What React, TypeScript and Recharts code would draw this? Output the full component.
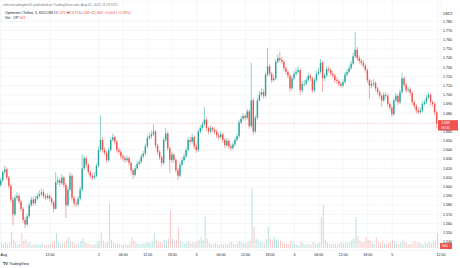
import { ComposedChart, Bar, XAxis, YAxis, CartesianGrid, ReferenceLine } from "recharts";

// OP/USDT, 30 min candles from Aug 1 00:00
const firstOpen = 1.602;
const closes = [
  1.607, 1.616, 1.619, 1.610, 1.601, 1.586, 1.570, 1.588, 1.590, 1.584,
  1.576, 1.564, 1.559, 1.568, 1.580, 1.586, 1.582, 1.587, 1.590, 1.592,
  1.594, 1.590, 1.588, 1.590, 1.587, 1.583, 1.576, 1.605, 1.607, 1.604,
  1.610, 1.602, 1.580, 1.597, 1.612, 1.588, 1.582, 1.581, 1.587, 1.597,
  1.620, 1.631, 1.624, 1.616, 1.612, 1.610, 1.612, 1.623, 1.640, 1.651,
  1.640, 1.637, 1.629, 1.640, 1.651, 1.654, 1.649, 1.640, 1.638, 1.633,
  1.631, 1.629, 1.631, 1.626, 1.618, 1.613, 1.620, 1.625, 1.627, 1.633,
  1.636, 1.644, 1.653, 1.655, 1.657, 1.660, 1.645, 1.638, 1.632, 1.626,
  1.651, 1.658, 1.642, 1.629, 1.635, 1.629, 1.618, 1.612, 1.624, 1.629,
  1.633, 1.640, 1.651, 1.649, 1.654, 1.644, 1.640, 1.660, 1.664, 1.668,
  1.673, 1.664, 1.660, 1.664, 1.662, 1.660, 1.656, 1.654, 1.657, 1.651,
  1.645, 1.650, 1.644, 1.642, 1.646, 1.651, 1.655, 1.670, 1.674, 1.677,
  1.675, 1.682, 1.666, 1.694, 1.660, 1.675, 1.694, 1.700, 1.703, 1.699,
  1.722, 1.731, 1.723, 1.716, 1.718, 1.736, 1.740, 1.738, 1.736, 1.729,
  1.725, 1.721, 1.707, 1.718, 1.723, 1.725, 1.727, 1.705, 1.712, 1.712,
  1.716, 1.721, 1.718, 1.705, 1.716, 1.723, 1.725, 1.735, 1.718, 1.721,
  1.728, 1.727, 1.723, 1.721, 1.716, 1.715, 1.712, 1.710, 1.714, 1.722,
  1.725, 1.729, 1.734, 1.742, 1.749, 1.740, 1.737, 1.735, 1.732, 1.727,
  1.716, 1.710, 1.712, 1.713, 1.707, 1.703, 1.699, 1.694, 1.700, 1.699,
  1.690, 1.686, 1.679, 1.694, 1.699, 1.692, 1.703, 1.718, 1.711, 1.705,
  1.706, 1.702, 1.692, 1.688, 1.683, 1.681, 1.683, 1.690, 1.692, 1.697,
  1.700, 1.692, 1.690, 1.681, 1.669,
];
const highs = [
  1.610, 1.618, 1.623, 1.621, 1.612, 1.603, 1.589, 1.591, 1.594, 1.592,
  1.586, 1.578, 1.567, 1.571, 1.583, 1.589, 1.589, 1.590, 1.593, 1.596,
  1.598, 1.597, 1.592, 1.593, 1.592, 1.589, 1.585, 1.616, 1.611, 1.609,
  1.614, 1.612, 1.604, 1.600, 1.616, 1.614, 1.590, 1.585, 1.590, 1.600,
  1.635, 1.634, 1.633, 1.626, 1.618, 1.615, 1.616, 1.626, 1.644, 1.678,
  1.654, 1.643, 1.639, 1.643, 1.654, 1.658, 1.656, 1.651, 1.643, 1.640,
  1.636, 1.634, 1.634, 1.633, 1.628, 1.620, 1.623, 1.628, 1.630, 1.636,
  1.639, 1.647, 1.656, 1.659, 1.661, 1.668, 1.662, 1.647, 1.640, 1.634,
  1.654, 1.664, 1.660, 1.644, 1.638, 1.637, 1.631, 1.620, 1.627, 1.632,
  1.636, 1.643, 1.654, 1.654, 1.658, 1.656, 1.647, 1.663, 1.667, 1.671,
  1.687, 1.675, 1.666, 1.667, 1.666, 1.665, 1.662, 1.659, 1.660, 1.659,
  1.653, 1.653, 1.652, 1.647, 1.649, 1.654, 1.658, 1.673, 1.677, 1.680,
  1.679, 1.685, 1.684, 1.735, 1.697, 1.678, 1.697, 1.704, 1.707, 1.706,
  1.725, 1.751, 1.733, 1.725, 1.722, 1.739, 1.744, 1.747, 1.741, 1.738,
  1.731, 1.727, 1.723, 1.721, 1.726, 1.729, 1.731, 1.729, 1.715, 1.716,
  1.719, 1.724, 1.723, 1.720, 1.719, 1.726, 1.729, 1.739, 1.737, 1.724,
  1.731, 1.731, 1.729, 1.726, 1.723, 1.719, 1.717, 1.714, 1.717, 1.725,
  1.728, 1.732, 1.737, 1.746, 1.768, 1.752, 1.743, 1.740, 1.738, 1.734,
  1.729, 1.718, 1.716, 1.717, 1.715, 1.709, 1.705, 1.701, 1.703, 1.703,
  1.701, 1.692, 1.688, 1.697, 1.702, 1.701, 1.706, 1.724, 1.720, 1.713,
  1.709, 1.708, 1.704, 1.694, 1.690, 1.686, 1.686, 1.693, 1.695, 1.700,
  1.703, 1.702, 1.694, 1.692, 1.683,
];
const lows = [
  1.600, 1.605, 1.613, 1.607, 1.598, 1.583, 1.558, 1.568, 1.585, 1.581,
  1.573, 1.561, 1.555, 1.557, 1.566, 1.578, 1.579, 1.580, 1.585, 1.588,
  1.590, 1.587, 1.585, 1.586, 1.584, 1.580, 1.572, 1.575, 1.602, 1.600,
  1.602, 1.599, 1.566, 1.578, 1.595, 1.585, 1.579, 1.578, 1.579, 1.585,
  1.595, 1.618, 1.621, 1.613, 1.609, 1.607, 1.608, 1.610, 1.621, 1.638,
  1.637, 1.634, 1.626, 1.627, 1.638, 1.649, 1.646, 1.637, 1.635, 1.630,
  1.628, 1.626, 1.627, 1.623, 1.615, 1.608, 1.611, 1.618, 1.623, 1.625,
  1.631, 1.634, 1.642, 1.651, 1.652, 1.655, 1.642, 1.635, 1.629, 1.622,
  1.624, 1.649, 1.639, 1.615, 1.626, 1.626, 1.615, 1.607, 1.610, 1.622,
  1.627, 1.631, 1.638, 1.646, 1.647, 1.641, 1.637, 1.638, 1.658, 1.662,
  1.666, 1.661, 1.657, 1.658, 1.659, 1.657, 1.653, 1.651, 1.652, 1.648,
  1.642, 1.643, 1.641, 1.639, 1.640, 1.644, 1.649, 1.653, 1.668, 1.672,
  1.672, 1.673, 1.663, 1.664, 1.656, 1.658, 1.673, 1.692, 1.698, 1.696,
  1.697, 1.720, 1.720, 1.713, 1.714, 1.716, 1.734, 1.735, 1.733, 1.726,
  1.722, 1.718, 1.703, 1.705, 1.716, 1.721, 1.723, 1.700, 1.703, 1.709,
  1.710, 1.714, 1.715, 1.702, 1.703, 1.714, 1.721, 1.723, 1.703, 1.715,
  1.719, 1.724, 1.720, 1.718, 1.713, 1.712, 1.709, 1.707, 1.708, 1.712,
  1.720, 1.723, 1.727, 1.732, 1.740, 1.737, 1.734, 1.732, 1.729, 1.724,
  1.713, 1.696, 1.707, 1.709, 1.704, 1.700, 1.696, 1.687, 1.692, 1.696,
  1.687, 1.683, 1.676, 1.677, 1.692, 1.689, 1.690, 1.701, 1.708, 1.702,
  1.703, 1.699, 1.689, 1.685, 1.680, 1.679, 1.679, 1.681, 1.688, 1.690,
  1.695, 1.689, 1.687, 1.678, 1.664,
];
const volumes = [
  8, 6, 10, 7, 9, 27, 14, 9, 6, 7,
  25, 12, 15, 8, 10, 6, 5, 7, 5, 6,
  8, 5, 6, 5, 7, 9, 12, 25, 10, 7,
  8, 9, 14, 18, 11, 10, 7, 6, 8, 12,
  16, 10, 8, 7, 6, 5, 6, 9, 12, 25,
  12, 8, 10, 75, 14, 9, 7, 8, 6, 5,
  6, 7, 5, 8, 18, 12, 9, 7, 6, 8,
  7, 9, 10, 8, 12, 25, 14, 9, 10, 8,
  14, 12, 16, 63, 15, 10, 14, 35, 12, 8,
  7, 9, 12, 8, 10, 9, 11, 14, 18, 13,
  52, 16, 9, 7, 6, 8, 6, 5, 7, 6,
  8, 6, 9, 10, 7, 6, 8, 12, 9, 8,
  7, 10, 14, 100, 35, 16, 14, 10, 9, 8,
  15, 35, 16, 12, 18, 14, 10, 12, 9, 8,
  7, 6, 12, 9, 7, 6, 5, 11, 8, 6,
  6, 7, 5, 10, 8, 7, 9, 52, 72, 14,
  9, 7, 6, 8, 7, 6, 8, 10, 7, 9,
  8, 10, 14, 16, 52, 20, 12, 9, 10, 18,
  14, 12, 8, 7, 18, 9, 8, 12, 7, 6,
  8, 9, 14, 12, 8, 7, 9, 14, 10, 8,
  6, 7, 9, 12, 8, 10, 7, 6, 9, 8,
  10, 7, 9, 12, 25,
];

// 1.670 sits under the last-price tag, so it is not listed
const priceTicks = [
  1.54, 1.55, 1.56, 1.57, 1.58, 1.59, 1.6, 1.61, 1.62, 1.63, 1.64, 1.65, 1.66,
  1.68, 1.69, 1.7, 1.71, 1.72, 1.73, 1.74, 1.75, 1.76, 1.77, 1.78,
];
// hours since Aug 1 00:00
const timeTicks = [0, 12, 24, 30, 36, 42, 48, 54, 60, 66, 72, 78, 84, 90, 96, 108];
const timeLabels = ["Aug", "12:00", "2", "06:00", "12:00", "18:00", "3", "06:00", "12:00", "18:00", "4", "06:00", "12:00", "18:00", "5", "12:00"];

const UP = "#26a69a";
const DOWN = "#ef5350";
const TEXT = "#131722";
const FONT = "'Liberation Sans', Arial, sans-serif";

const candles = closes.map((c, i) => {
  const o = i === 0 ? firstOpen : closes[i - 1];
  return { t: i * 0.5, o, c, h: highs[i], l: lows[i], v: volumes[i], up: c >= o };
});
const last = candles[candles.length - 1];

function Candle(props: any) {
  const { x, y, width, height, payload } = props;
  if (x == null || y == null || !payload) return null;
  const top = Math.min(y, y + height);
  const h = Math.abs(height);
  const span = payload.h - payload.l || 1;
  const py = (p: number) => top + ((payload.h - p) / span) * h;
  const color = payload.up ? UP : DOWN;
  const cx = x + width / 2;
  const bt = py(Math.max(payload.o, payload.c));
  const bb = py(Math.min(payload.o, payload.c));
  return (
    <g>
      <line x1={cx} x2={cx} y1={top} y2={top + h} stroke={color} strokeWidth={0.5} />
      <rect x={x} y={bt} width={width} height={Math.max(bb - bt, 0.6)} fill={color} />
    </g>
  );
}

function VolBar(props: any) {
  const { x, y, width, height, payload } = props;
  if (x == null || !payload) return null;
  return (
    <rect x={x} y={Math.min(y, y + height)} width={width} height={Math.abs(height)}
      fill={payload.up ? UP : DOWN} fillOpacity={0.35} />
  );
}

function TimeTick(props: any) {
  const { x, y, payload } = props;
  const idx = timeTicks.indexOf(payload.value);
  const first = idx === 0;
  return (
    <text x={first ? 0.5 : x} y={y + 3} fontSize={3.6} fill={TEXT} fontFamily={FONT}
      textAnchor={first ? "start" : "middle"}>
      {timeLabels[idx] ?? ""}
    </text>
  );
}

function PriceTag(props: any) {
  const { viewBox } = props;
  if (!viewBox) return null;
  const x = viewBox.x + viewBox.width;
  const y = viewBox.y;
  return (
    <g>
      <rect x={x} y={y - 3.2} width={20} height={10.4} fill={DOWN} />
      <text x={x + 3.5} y={y + 0.8} fontSize={3.4} fill="#fff" fontFamily={FONT}>{last.c.toFixed(3)}</text>
      <text x={x + 3.5} y={y + 5.2} fontSize={3.4} fill="#fff" fontFamily={FONT}>00:31</text>
    </g>
  );
}

export default function App() {
  return (
    <div style={{ position: "absolute", left: 0, top: 0, width: 460, height: 268, background: "#fff" }}>
      <ComposedChart width={460} height={268} data={candles} margin={{ top: 0, right: 0, bottom: 0, left: 0 }}>
        <CartesianGrid xAxisId="x" yAxisId="price" stroke="#eef0f4" strokeWidth={0.6} />
        <XAxis xAxisId="x" dataKey="t" type="number" domain={[-0.25, 107.25]} allowDataOverflow
          ticks={timeTicks} interval={0} height={18} tickSize={0} tickMargin={2.5}
          axisLine={false} tickLine={false} tick={<TimeTick />} />
        <XAxis xAxisId="xv" dataKey="t" type="number" domain={[-0.25, 107.25]} allowDataOverflow hide />
        <YAxis yAxisId="price" orientation="right" width={22} type="number"
          domain={[1.5312, 1.8032]} allowDataOverflow ticks={priceTicks} interval={0}
          tickSize={0} tickMargin={5} axisLine={false} tickLine={false}
          tick={{ fontSize: 3.6, fill: TEXT, fontFamily: FONT, textAnchor: "start" }}
          tickFormatter={(v: number) => v.toFixed(3)} />
        <YAxis yAxisId="vol" hide type="number" domain={[-3.3, 413.3]} allowDataOverflow />
        <Bar xAxisId="xv" yAxisId="vol" dataKey="v" barSize={0.9} shape={<VolBar />} isAnimationActive={false} />
        <Bar xAxisId="x" yAxisId="price" dataKey={(d: any) => [d.l, d.h]} barSize={1.4}
          shape={<Candle />} isAnimationActive={false} />
        <ReferenceLine xAxisId="x" yAxisId="price" y={last.c} stroke={DOWN} strokeDasharray="1 1.5"
          strokeWidth={0.6} strokeOpacity={0.7} label={<PriceTag />} />
      </ComposedChart>
      <svg width={460} height={268} style={{ position: "absolute", left: 0, top: 0, pointerEvents: "none" }}>
        <text x={3} y={5.5} fontSize={3.4} fill="#787b86" fontFamily={FONT}>
          infernotradingbot16 published on TradingView.com, Aug 05, 2022 11:29 UTC
        </text>
        <text x={5} y={13.5} fontSize={3.6} fontFamily={FONT}>
          <tspan fill={TEXT}>Optimism / Tether, 5, KUCOIN  </tspan>
          <tspan fill={TEXT}>O</tspan><tspan fill={DOWN}>1.672 </tspan>
          <tspan fill={TEXT}>H</tspan><tspan fill={DOWN}>1.672 </tspan>
          <tspan fill={TEXT}>L</tspan><tspan fill={DOWN}>1.669 </tspan>
          <tspan fill={TEXT}>C</tspan><tspan fill={DOWN}>1.669 −0.003 (−0.18%)</tspan>
        </text>
        <text x={5} y={19} fontSize={3.6} fontFamily={FONT}>
          <tspan fill={TEXT}>Vol · OP  </tspan><tspan fill={DOWN}>563</tspan>
        </text>
        <text x={443} y={14.5} fontSize={3.6} fill={TEXT} fontFamily={FONT}>USDT</text>
        <rect x={440} y={243} width={12} height={6} fill={DOWN} />
        <text x={442} y={247.3} fontSize={3.4} fill="#fff" fontFamily={FONT}>563</text>
        <text x={3} y={265} fontSize={3.8} fill={TEXT} fontFamily={FONT} fontWeight="bold">TV</text>
        <text x={9} y={265} fontSize={3.6} fill={TEXT} fontFamily={FONT}>TradingView</text>
      </svg>
    </div>
  );
}
